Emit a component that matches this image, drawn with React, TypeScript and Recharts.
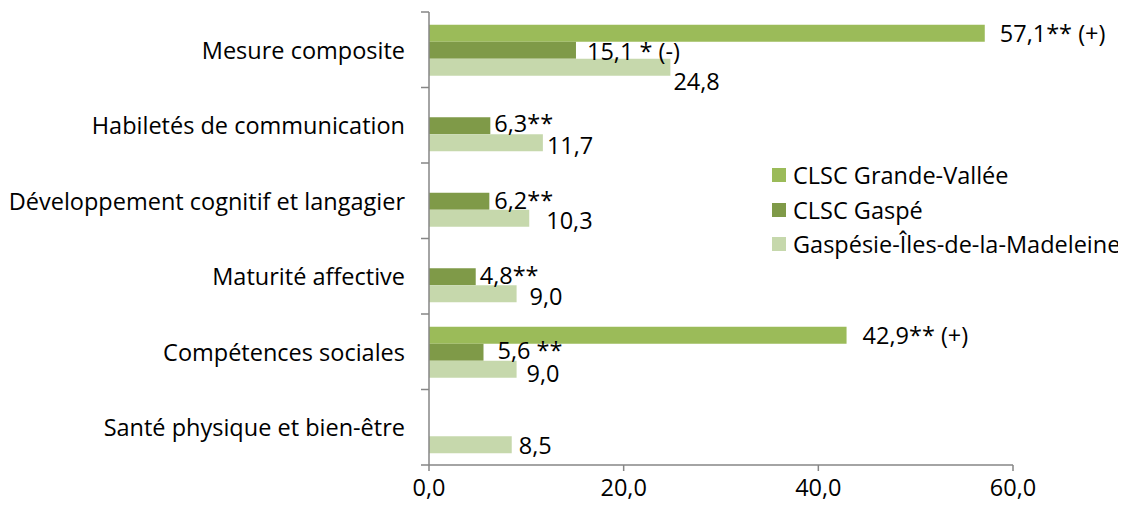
import React from 'react';
import { BarChart, Bar, XAxis, YAxis, LabelList } from 'recharts';

const categories = [
  'Mesure composite',
  'Habiletés de communication',
  'Développement cognitif et langagier',
  'Maturité affective',
  'Compétences sociales',
  'Santé physique et bien-être',
];

const grandeVallee = [57.1, null, null, null, 42.9, null];
const gaspe = [15.1, 6.3, 6.2, 4.8, 5.6, null];
const region = [24.8, 11.7, 10.3, 9.0, 9.0, 8.5];

const grandeValleeLabels = ['57,1** (+)', '', '', '', '42,9** (+)', ''];
const gaspeLabels = ['15,1 * (-)', '6,3**', '6,2**', '4,8**', '5,6 **', ''];
const regionLabels = ['24,8', '11,7', '10,3', '9,0', '9,0', '8,5'];

const xTicks = [0, 20, 40, 60];

const seriesNames = ['CLSC Grande-Vallée', 'CLSC Gaspé', 'Gaspésie-Îles-de-la-Madeleine'];
const COLORS = ['#9BBB59', '#7F9A48', '#C6D8AC'];

// label nudges (dx from bar end, dy from bar centre), as placed in the original
const gvShift = [[15, 0], [0, 0], [0, 0], [0, 0], [16, 0], [0, 0]];
const gaspeShift = [[11, 1], [4, -3], [5, -1], [4, -2], [14, -2], [0, 0]];
const regionShift = [[3, 14], [4, 2], [17, 2], [13, 2], [10, 4], [7, 0]];

const rows = categories.map((c, i) => ({
  name: c,
  gv: grandeVallee[i],
  gaspe: gaspe[i],
  region: region[i],
}));

const FONT = '"Open Sans", sans-serif';
const FS = 23.5;
const W = 1110;
const H = 503;
const MARGIN = { top: 4, right: 105, bottom: 6, left: 0 };
const Y_AXIS_W = 421;
const X_AXIS_H = 40;
const AXIS_COLOR = '#868686';

const plotH = H - MARGIN.top - MARGIN.bottom - X_AXIS_H;
const step = plotH / categories.length;

function makeLabel(texts: string[], shifts: number[][]) {
  return (props: any) => {
    const { x, y, width, height } = props;
    // recharts drops null bars from the index, so find the category from y
    const idx = Math.floor((y - MARGIN.top) / step);
    const t = texts[idx];
    if (!t) return null;
    const [dx, dy] = shifts[idx];
    return (
      <text
        x={x + width + dx}
        y={y + height / 2 + dy}
        dominantBaseline="central"
        fontFamily={FONT}
        fontSize={FS}
        fill="#000"
      >
        {t}
      </text>
    );
  };
}

function CategoryTick(props: any) {
  const { y, payload, index } = props;
  const ax = MARGIN.left + Y_AXIS_W;
  return (
    <g>
      <line x1={ax - 8} x2={ax} y1={y - step / 2} y2={y - step / 2} stroke={AXIS_COLOR} strokeWidth={1.5} />
      {index === categories.length - 1 && (
        <line x1={ax - 8} x2={ax} y1={y + step / 2} y2={y + step / 2} stroke={AXIS_COLOR} strokeWidth={1.5} />
      )}
      <text x={ax - 24} y={y} textAnchor="end" dominantBaseline="central" fontFamily={FONT} fontSize={FS} fill="#000">
        {payload.value}
      </text>
    </g>
  );
}

function LegendBox() {
  return (
    <div style={{ position: 'absolute', left: 764, top: 150, fontFamily: FONT, fontSize: FS }}>
      {seriesNames.map((s, i) => (
        <div key={s} style={{ display: 'flex', alignItems: 'center', height: 34.5, whiteSpace: 'nowrap' }}>
          <span style={{ width: 14, height: 14, background: COLORS[i], marginRight: 7, display: 'inline-block' }} />
          <span>{s}</span>
        </div>
      ))}
    </div>
  );
}

export default function App() {
  return (
    <div style={{ position: 'relative', width: W, height: H }}>
      <BarChart
        width={W}
        height={H}
        data={rows}
        layout="vertical"
        margin={MARGIN}
        barCategoryGap="17%"
        barGap={0}
      >
        <XAxis
          type="number"
          domain={[0, 60]}
          ticks={xTicks}
          height={X_AXIS_H}
          tickFormatter={(v: number) => v.toFixed(1).replace('.', ',')}
          tick={{ fontFamily: FONT, fontSize: FS, fill: '#000' }}
          tickSize={6}
          tickMargin={8}
          stroke={AXIS_COLOR}
          strokeWidth={1.5}
          interval={0}
        />
        <YAxis
          type="category"
          dataKey="name"
          width={Y_AXIS_W}
          tick={<CategoryTick />}
          tickLine={false}
          stroke={AXIS_COLOR}
          strokeWidth={1.5}
          interval={0}
        />
        <Bar dataKey="gv" fill={COLORS[0]} isAnimationActive={false}>
          <LabelList dataKey="gv" content={makeLabel(grandeValleeLabels, gvShift)} />
        </Bar>
        <Bar dataKey="gaspe" fill={COLORS[1]} isAnimationActive={false}>
          <LabelList dataKey="gaspe" content={makeLabel(gaspeLabels, gaspeShift)} />
        </Bar>
        <Bar dataKey="region" fill={COLORS[2]} isAnimationActive={false}>
          <LabelList dataKey="region" content={makeLabel(regionLabels, regionShift)} />
        </Bar>
      </BarChart>
      <LegendBox />
    </div>
  );
}
